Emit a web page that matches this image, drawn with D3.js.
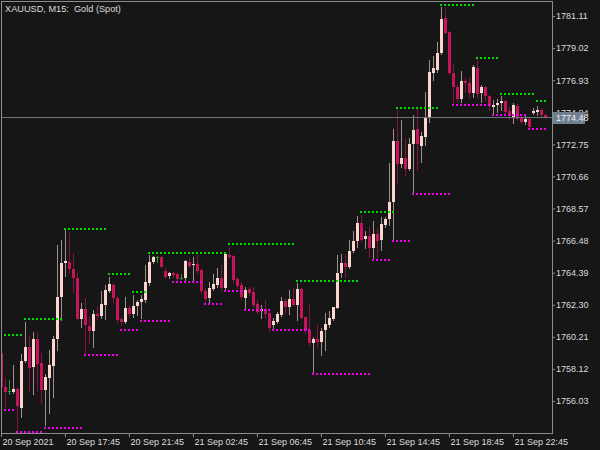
<!DOCTYPE html>
<html><head><meta charset="utf-8">
<script src="https://cdn.jsdelivr.net/npm/d3@7"></script>
<style>html,body{margin:0;padding:0;background:#161616;}svg{display:block}</style>
</head><body>
<svg id="chart" width="600" height="450"></svg>
<script>
const title = "XAUUSD, M15:  Gold (Spot)";
const lastPrice = 1774.48;
const openP = [1759.15,1756.94,1756.68,1756.61,1756.81,1755.57,1758.63,1759.55,1758.24,1760.07,
1758.50,1756.74,1757.53,1758.31,1760.07,1762.80,1765.02,1765.08,1764.63,1764.04,
1761.37,1762.02,1760.91,1760.59,1761.70,1761.57,1762.28,1763.19,1763.59,1762.74,
1761.37,1761.18,1762.09,1761.70,1762.22,1762.48,1762.61,1763.72,1765.08,1765.41,
1765.41,1764.50,1764.17,1764.37,1764.30,1764.04,1764.04,1765.08,1764.89,1764.95,
1764.56,1763.19,1762.74,1763.32,1763.59,1764.04,1763.39,1765.54,1765.48,1763.98,
1763.59,1762.74,1763.32,1763.13,1762.35,1761.89,1762.02,1761.76,1760.98,1761.18,
1761.63,1762.54,1762.15,1762.67,1762.28,1763.32,1761.50,1760.65,1759.81,1760.07,
1759.87,1760.65,1760.98,1761.37,1762.09,1764.37,1765.02,1764.76,1765.80,1766.45,
1767.63,1766.58,1766.78,1766.00,1766.91,1766.52,1767.50,1767.89,1768.99,1772.97,
1771.47,1771.86,1771.14,1772.77,1773.75,1772.64,1773.23,1774.53,1777.40,1777.59,
1778.70,1780.98,1780.07,1777.40,1776.48,1775.70,1776.88,1776.75,1776.09,1777.72,
1776.09,1776.48,1775.90,1775.18,1775.31,1775.44,1775.57,1774.92,1774.47,1775.25,
1774.47,1774.21,1774.40,1774.79,1774.86,1774.99,1774.66];
const highP = [1759.48,1757.53,1757.40,1758.37,1756.94,1759.09,1761.18,1760.33,1760.52,1760.46,
1759.15,1757.79,1759.35,1760.26,1766.19,1766.52,1767.17,1766.97,1765.67,1764.37,
1762.41,1762.74,1761.50,1761.96,1762.22,1763.19,1763.59,1764.11,1763.72,1762.87,
1761.50,1762.80,1762.28,1762.93,1762.61,1762.93,1764.89,1765.54,1765.48,1765.48,
1765.48,1764.69,1764.43,1764.43,1764.43,1764.30,1765.22,1765.35,1765.41,1765.54,
1764.63,1763.39,1763.78,1764.30,1764.69,1764.89,1765.74,1766.06,1765.54,1764.11,
1763.78,1763.46,1763.46,1763.46,1762.61,1762.28,1762.61,1761.89,1761.44,1761.83,
1762.80,1762.67,1763.26,1763.39,1763.72,1763.39,1761.50,1762.28,1760.20,1760.98,
1760.78,1761.76,1761.89,1762.15,1765.54,1765.61,1765.54,1766.52,1767.10,1768.08,
1768.15,1767.10,1767.36,1767.76,1767.30,1768.02,1768.02,1771.53,1773.75,1774.99,
1774.34,1773.16,1773.16,1774.66,1775.12,1773.55,1776.16,1778.24,1778.50,1779.42,
1781.70,1781.57,1780.13,1777.98,1776.62,1777.53,1777.07,1777.14,1777.92,1778.37,
1776.62,1776.55,1775.96,1775.64,1775.70,1775.90,1775.64,1775.18,1775.44,1775.38,
1774.60,1774.60,1774.53,1775.12,1775.25,1775.12,1774.73];
const lowP = [1756.61,1755.57,1756.48,1756.55,1754.01,1754.98,1758.57,1756.74,1756.48,1756.74,
1755.90,1754.46,1755.25,1756.29,1759.35,1761.31,1764.17,1764.37,1763.13,1761.31,
1760.85,1759.15,1759.81,1759.55,1761.37,1761.44,1761.37,1763.13,1762.48,1761.18,
1760.98,1761.11,1761.50,1761.50,1761.63,1761.44,1762.48,1763.59,1765.02,1765.08,
1764.76,1764.04,1764.04,1764.11,1763.91,1763.98,1763.91,1764.76,1763.78,1764.37,
1763.06,1762.41,1762.48,1763.26,1763.46,1763.26,1763.32,1765.35,1763.78,1763.39,
1762.67,1762.09,1762.93,1762.15,1761.76,1761.44,1761.44,1760.59,1760.65,1761.11,
1761.57,1761.76,1761.70,1762.28,1761.31,1761.44,1760.46,1759.68,1757.92,1759.55,
1759.02,1759.35,1760.85,1761.31,1762.09,1764.11,1764.11,1764.69,1765.74,1766.06,
1766.39,1766.00,1765.41,1765.35,1765.35,1765.87,1767.36,1767.50,1766.52,1770.30,
1771.27,1770.75,1771.08,1769.64,1771.08,1771.60,1772.71,1774.21,1776.94,1777.46,
1778.63,1780.00,1777.33,1775.51,1775.51,1775.51,1776.16,1775.83,1775.83,1775.83,
1775.51,1775.64,1774.99,1774.79,1774.86,1774.99,1774.79,1774.34,1774.14,1774.34,
1774.14,1774.07,1773.81,1774.73,1774.66,1774.60,1774.45];
const closeP = [1756.94,1756.61,1756.68,1756.81,1755.70,1758.63,1759.55,1758.18,1760.07,1758.44,
1756.74,1757.59,1758.37,1760.07,1762.80,1765.02,1765.15,1764.63,1764.04,1761.37,
1762.02,1760.98,1760.59,1761.70,1761.57,1762.35,1763.26,1763.65,1762.74,1761.31,
1761.18,1762.09,1761.70,1762.22,1762.48,1762.67,1763.78,1765.08,1765.41,1765.41,
1764.76,1764.11,1764.37,1764.24,1763.98,1764.04,1765.15,1764.82,1764.95,1764.50,
1763.19,1762.67,1763.39,1763.65,1764.04,1763.39,1765.61,1765.41,1763.91,1763.52,
1762.80,1763.26,1763.06,1762.28,1761.83,1762.02,1761.70,1760.78,1761.24,1761.70,
1762.54,1762.15,1762.67,1762.28,1763.32,1761.44,1760.59,1759.81,1760.07,1759.87,
1760.59,1761.05,1761.44,1762.15,1764.37,1765.02,1764.76,1765.80,1766.45,1767.63,
1766.52,1766.78,1766.00,1766.91,1766.45,1767.56,1767.89,1768.99,1772.97,1771.47,
1771.86,1771.14,1772.77,1773.68,1772.77,1773.29,1774.53,1777.46,1777.72,1778.70,
1780.91,1780.00,1777.40,1776.48,1775.70,1776.88,1776.75,1776.09,1777.79,1776.03,
1776.48,1775.90,1775.25,1775.31,1775.44,1775.57,1774.86,1774.60,1775.31,1774.40,
1774.21,1774.40,1773.88,1774.92,1774.99,1774.66,1774.48];
// resistance (green) and support (magenta) levels: segment k starts at bar index *From[k]
const resFrom = [0,6,16,27,33,37,57,74,90,99,110,119,125,134];
const resLevel = [1760.33,1761.37,1767.23,1764.30,1763.13,1765.67,1766.26,1763.85,1768.34,1775.12,1781.83,1778.37,1776.03,1775.57];
const supFrom = [1,4,11,21,30,35,43,51,56,61,68,78,93,98,103,113,123,132];
const supLevel = [1755.44,1753.98,1754.27,1759.02,1760.65,1761.24,1763.78,1762.35,1763.19,1761.96,1760.65,1757.79,1765.22,1766.45,1769.51,1775.31,1774.66,1773.75];
const yTicks = [1781.11,1779.02,1776.93,1774.84,1772.75,1770.66,1768.57,1766.48,1764.39,1762.30,1760.21,1758.12,1756.03];
const xTickIndex = [0,16,32,48,64,80,96,112,128];
const xTickLabels = ["20 Sep 2021","20 Sep 17:45","20 Sep 21:45","21 Sep 02:45","21 Sep 06:45","21 Sep 10:45","21 Sep 14:45","21 Sep 18:45","21 Sep 22:45"];

const C = {bg:"#161616", frame:"#8c8c8c", text:"#dcdcdc", bull:"#fcd5ce", bear:"#c5145a",
  bullWick:"#9c9090", bearWick:"#851440", doji:"#22a022", res:"#00dd00", sup:"#ee00ee",
  priceLine:"#6b7580", priceBox:"#708090"};
const FONT = "'Liberation Sans', Arial, sans-serif";

const n = openP.length;
const svg = d3.select("#chart");
svg.append("rect").attr("width",600).attr("height",450).attr("fill",C.bg);

const x = d3.scaleLinear().domain([0, n-1]).range([1, 1 + 4*(n-1)]);
const y = d3.scaleLinear().domain([1756.03, 1781.11]).range([401, 16]);
const cx = i => Math.round(x(i));
const py = v => Math.round(y(v));

svg.append("defs").append("clipPath").attr("id","clip")
  .append("rect").attr("x",2).attr("y",2).attr("width",550).attr("height",431);

const g = svg.append("g").attr("clip-path","url(#clip)").attr("shape-rendering","crispEdges");
const idx = d3.range(n);
const kind = i => closeP[i] === openP[i] ? "doji" : (closeP[i] > openP[i] ? "bull" : "bear");

g.selectAll("rect.wick").data(idx).join("rect").attr("class","wick")
  .attr("x", i => cx(i)).attr("width", 1)
  .attr("y", i => py(highP[i]))
  .attr("height", i => Math.max(1, py(lowP[i]) - py(highP[i]) + 1))
  .attr("fill", i => kind(i)==="doji" ? C.doji : kind(i)==="bull" ? C.bullWick : C.bearWick);

g.selectAll("rect.body").data(idx).join("rect").attr("class","body")
  .attr("x", i => cx(i) - 1).attr("width", 3)
  .attr("y", i => py(Math.max(openP[i], closeP[i])))
  .attr("height", i => Math.max(1, Math.abs(py(openP[i]) - py(closeP[i]))))
  .attr("fill", i => kind(i)==="doji" ? C.doji : kind(i)==="bull" ? C.bull : C.bear);

// price line
const ply = Math.floor(y(lastPrice)) + 0.5;
svg.append("line").attr("x1",2).attr("x2",552).attr("y1",ply).attr("y2",ply)
  .attr("stroke",C.priceLine).attr("stroke-width",1);

// dotted level lines
function expand(from, level) {
  const out = [];
  from.forEach((s, k) => {
    const e = k < from.length - 1 ? from[k+1] - 1 : n - 1;
    for (let i = s; i <= e; i++) out.push({i, v: level[k]});
  });
  return out;
}
g.selectAll("rect.res").data(expand(resFrom, resLevel)).join("rect").attr("class","res")
  .attr("x", d => cx(d.i) - 1).attr("y", d => py(d.v) - 1).attr("width",2).attr("height",2).attr("fill",C.res);
g.selectAll("rect.sup").data(expand(supFrom, supLevel)).join("rect").attr("class","sup")
  .attr("x", d => cx(d.i) - 1).attr("y", d => py(d.v) - 1).attr("width",2).attr("height",2).attr("fill",C.sup);

// frame
svg.append("rect").attr("x",1.5).attr("y",1.5).attr("width",551).attr("height",432)
  .attr("fill","none").attr("stroke",C.frame).attr("stroke-width",1);

// axes
const yAxis = svg.append("g").attr("transform","translate(552,0)")
  .call(d3.axisRight(y).tickValues(yTicks).tickSize(3).tickPadding(1).tickFormat(d3.format(".2f")));
const xAxis = svg.append("g").attr("transform","translate(0,433)")
  .call(d3.axisBottom(x).tickValues(xTickIndex).tickSize(4).tickPadding(2).tickFormat((d,k) => xTickLabels[k]));
[yAxis, xAxis].forEach(a => {
  a.select(".domain").remove();
  a.selectAll("line").attr("stroke",C.frame);
  a.selectAll("text").attr("fill",C.text).style("font-family",FONT).style("font-size","9px");
});
xAxis.selectAll("text").attr("text-anchor","start").attr("dx","1");

// current price label
const pby = y(lastPrice);
svg.append("rect").attr("x",553).attr("y",Math.round(pby)-6).attr("width",32).attr("height",12).attr("fill",C.priceBox);
svg.append("text").attr("x",556).attr("y",pby).attr("dy","0.35em").text(lastPrice.toFixed(2))
  .attr("fill","#eeeeee").style("font-family",FONT).style("font-size","9px");

// title
svg.append("text").attr("x",5).attr("y",11.5).text(title).style("white-space","pre")
  .attr("fill",C.text).style("font-family",FONT).style("font-size","9.2px");
</script>
</body></html>
